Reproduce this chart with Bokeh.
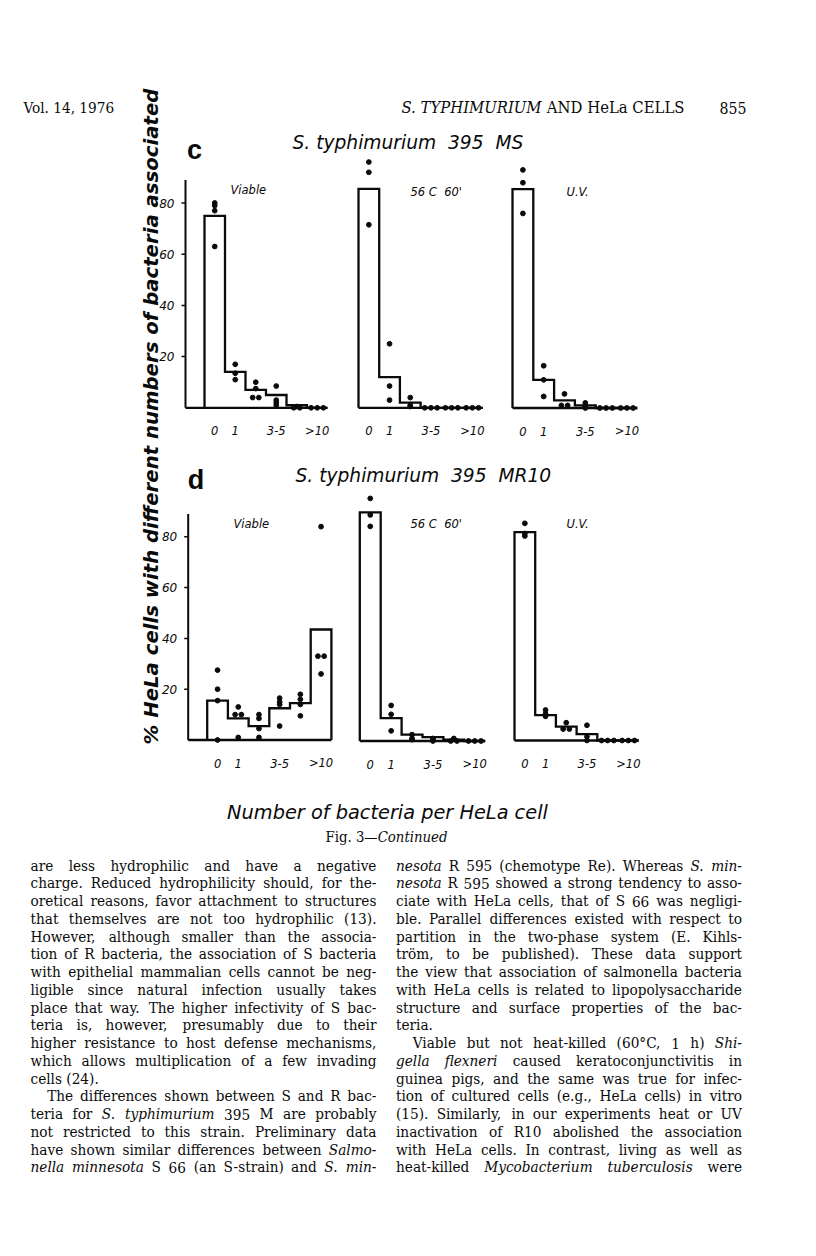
import math, struct, glob
from bokeh.plotting import figure
from bokeh.models import Range1d, ColumnDataSource
from bokeh.core.properties import value
from bokeh.embed import file_html
from bokeh.resources import INLINE

# ---------------- data ----------------
bin_names = ["0", "1", "2", "3-5", "6-10", ">10"]
x_tick_labels = ["0", "1", "3-5", ">10"]
y_ticks = [20, 40, 60, 80]
y_axis_top = 89

# panel c : S. typhimurium 395 MS
c_viable_bars = [75, 14, 7, 5, 1, 0]
c_viable_pts = [[80, 79, 77, 63], [17, 13.5, 11], [10, 7.5, 4, 4], [8.5, 3, 2, 1], [0.5, 0, 0], [0, 0, 0]]
c_heat_bars = [85.5, 12, 2, 0, 0, 0]
c_heat_pts = [[96, 92, 71.5], [25, 8.5, 3], [4, 1, 0.5], [0, 0, 0], [0, 0, 0], [0, 0, 0]]
c_uv_bars = [85.5, 11, 3, 1, 0, 0]
c_uv_pts = [[93, 88, 76], [16.5, 11, 4.5], [5.5, 1, 1], [2, 0.5, 0], [0, 0, 0], [0, 0, 0]]

# panel d : S. typhimurium 395 MR10
d_viable_bars = [15.5, 8.5, 5.5, 12.5, 14.5, 43.5]
d_viable_pts = [[27.5, 20, 15.5, 0], [13, 10, 10, 1], [10, 8.5, 4.5, 1], [16.5, 15, 14, 5.5], [18, 16, 14, 9.5], [84, 33, 33, 26]]
d_heat_bars = [90, 9, 2.5, 1.5, 0.5, 0]
d_heat_pts = [[95.5, 89, 84.5], [14, 10.5, 4], [2.5, 1, 0.5], [1, 0.5, 0], [1, 0, 0], [0, 0, 0]]
d_uv_bars = [82, 10, 5.5, 2.5, 0, 0]
d_uv_pts = [[85.5, 81.5, 80.5], [12, 10.5, 9.5], [7, 4.5, 4.5], [6, 1.5, 0], [0, 0, 0], [0, 0, 0]]

panel_letters = ["c", "d"]
panel_titles = ["S. typhimurium  395  MS", "S. typhimurium  395  MR10"]
condition_labels = ["Viable", "56 C  60'", "U.V."]
y_title = "% HeLa cells with different numbers of bacteria associated"
x_title = "Number of bacteria per HeLa cell"

left_lines = [
    "are less hydrophilic and have a negative",
    "charge. Reduced hydrophilicity should, for the-",
    "oretical reasons, favor attachment to structures",
    "that themselves are not too hydrophilic (13).",
    "However, although smaller than the associa-",
    "tion of R bacteria, the association of S bacteria",
    "with epithelial mammalian cells cannot be neg-",
    "ligible since natural infection usually takes",
    "place that way. The higher infectivity of S bac-",
    "teria is, however, presumably due to their",
    "higher resistance to host defense mechanisms,",
    "which allows multiplication of a few invading",
    "cells (24).",
    "The differences shown between S and R bac-",
    "teria for *S. typhimurium* 395 M are probably",
    "not restricted to this strain. Preliminary data",
    "have shown similar differences between *Salmo-*",
    "*nella minnesota* S 66 (an S-strain) and *S. min-*",
]
right_lines = [
    "*nesota* R 595 (chemotype Re). Whereas *S. min-*",
    "*nesota* R 595 showed a strong tendency to asso-",
    "ciate with HeLa cells, that of S 66 was negligi-",
    "ble. Parallel differences existed with respect to",
    "partition in the two-phase system (E. Kihls-",
    "tröm, to be published). These data support",
    "the view that association of salmonella bacteria",
    "with HeLa cells is related to lipopolysaccharide",
    "structure and surface properties of the bac-",
    "teria.",
    "Viable but not heat-killed (60°C, 1 h) *Shi-*",
    "*gella flexneri* caused keratoconjunctivitis in",
    "guinea pigs, and the same was true for infec-",
    "tion of cultured cells (e.g., HeLa cells) in vitro",
    "(15). Similarly, in our experiments heat or UV",
    "inactivation of R10 abolished the association",
    "with HeLa cells. In contrast, living as well as",
    "heat-killed *Mycobacterium tuberculosis* were",
]
left_par_first, left_par_last = [13], [12]
right_par_first, right_par_last = [10], [9]

# ---------------- font metrics (for layout of text only) ----------------
def find_font(name):
    for root in ("/usr/share/fonts", "/usr/local/share/fonts"):
        hits = glob.glob(root + "/**/" + name, recursive=True)
        if hits:
            return hits[0]
    return None

def load_widths(name):
    path = find_font(name)
    if path is None:
        return None
    try:
        data = open(path, "rb").read()
        ntab = struct.unpack(">H", data[4:6])[0]
        tabs = {}
        for i in range(ntab):
            tag, cs, off, ln = struct.unpack(">4sIII", data[12 + 16 * i:28 + 16 * i])
            tabs[tag.decode("latin1")] = off
        o = tabs["head"]; upem = struct.unpack(">H", data[o + 18:o + 20])[0]
        o = tabs["hhea"]; nhm = struct.unpack(">H", data[o + 34:o + 36])[0]
        o = tabs["hmtx"]
        adv = [struct.unpack(">H", data[o + 4 * i:o + 4 * i + 2])[0] for i in range(nhm)]
        c = tabs["cmap"]
        n = struct.unpack(">H", data[c + 2:c + 4])[0]
        sub = None
        for i in range(n):
            pid, eid, so = struct.unpack(">HHI", data[c + 4 + 8 * i:c + 12 + 8 * i])
            fmt = struct.unpack(">H", data[c + so:c + so + 2])[0]
            if fmt == 4 and pid in (0, 3):
                sub = c + so
                break
        seg2 = struct.unpack(">H", data[sub + 6:sub + 8])[0]; seg = seg2 // 2
        ends = struct.unpack(">%dH" % seg, data[sub + 14:sub + 14 + seg2])
        starts = struct.unpack(">%dH" % seg, data[sub + 16 + seg2:sub + 16 + 2 * seg2])
        deltas = struct.unpack(">%dh" % seg, data[sub + 16 + 2 * seg2:sub + 16 + 3 * seg2])
        rpos = sub + 16 + 3 * seg2
        roffs = struct.unpack(">%dH" % seg, data[rpos:rpos + seg2])
        cache = {}
        def width(ch):
            if ch in cache:
                return cache[ch]
            cp = ord(ch); g = 0
            for i in range(seg):
                if ends[i] >= cp:
                    if starts[i] <= cp:
                        if roffs[i] == 0:
                            g = (cp + deltas[i]) & 0xFFFF
                        else:
                            a = rpos + 2 * i + roffs[i] + 2 * (cp - starts[i])
                            gg = struct.unpack(">H", data[a:a + 2])[0]
                            g = (gg + deltas[i]) & 0xFFFF if gg else 0
                    break
            w = adv[min(g, nhm - 1)] / upem
            cache[ch] = w
            return w
        return width
    except Exception:
        return None

def text_em(s, fw):
    return sum(fw(ch) for ch in s)

def pick(options, fallback):
    for fam, fname in options:
        fw = load_widths(fname)
        if fw is not None:
            return fam, fw
    return options[-1][0], (lambda ch: fallback)

body_fam, serif_r = pick([("DejaVu Serif Condensed", "DejaVuSerifCondensed.ttf"), ("DejaVu Serif", "DejaVuSerif.ttf")], 0.5)
_, serif_i = pick([("DejaVu Serif Condensed", "DejaVuSerifCondensed-Italic.ttf"), ("DejaVu Serif", "DejaVuSerif-Italic.ttf")], 0.5)
_, sans_i = pick([("DejaVu Sans", "DejaVuSans-Oblique.ttf")], 0.55)
_, sans_bi = pick([("DejaVu Sans", "DejaVuSans-BoldOblique.ttf")], 0.6)
head_fam = body_fam
head_r, head_i = serif_r, serif_i

# ---------------- canvas ----------------
W, H = 800, 1240
p = figure(width=W, height=H, x_range=Range1d(0, W), y_range=Range1d(H, 0),
           output_backend="svg", toolbar_location=None, min_border=0,
           x_axis_type=None, y_axis_type=None, outline_line_color=None)
p.background_fill_color = "white"
p.border_fill_color = "white"
INK = "#0a0a0a"
SANS = value("DejaVu Sans")
NB = "\u00a0"

def nbsp(s):
    return s.replace("  ", NB + NB)

# ---------------- histogram panels ----------------
panels = [
    dict(name="cV", bars=c_viable_bars, pts=c_viable_pts, left=204.0, bw=20.5, base=407.3, k=2.56, axis=True),
    dict(name="cH", bars=c_heat_bars, pts=c_heat_pts, left=358.0, bw=20.7, base=407.3, k=2.56, axis=False),
    dict(name="cU", bars=c_uv_bars, pts=c_uv_pts, left=512.0, bw=20.8, base=407.5, k=2.56, axis=False),
    dict(name="dV", bars=d_viable_bars, pts=d_viable_pts, left=206.7, bw=20.7, base=739.5, k=2.54, axis=True),
    dict(name="dH", bars=d_heat_bars, pts=d_heat_pts, left=359.3, bw=20.9, base=740.5, k=2.54, axis=False),
    dict(name="dU", bars=d_uv_bars, pts=d_uv_pts, left=514.0, bw=20.7, base=740.0, k=2.54, axis=False),
]

for pn in panels:
    nm, bw, k = pn["name"], pn["bw"], pn["k"]
    p.extra_x_ranges[nm] = Range1d((0 - pn["left"]) / bw, (W - pn["left"]) / bw)
    p.extra_y_ranges[nm] = Range1d((pn["base"] - H) / k, pn["base"] / k)
    kw = dict(x_range_name=nm, y_range_name=nm)
    bars = pn["bars"]; nb = len(bars)
    xs, ys = [0], [0]
    for i, h in enumerate(bars):
        xs += [i, i + 1]; ys += [h, h]
    xs.append(nb); ys.append(0)
    p.line(xs, ys, line_color=INK, line_width=2.3, line_join="miter", **kw)
    ax_x = -19.0 / bw if pn["axis"] else 0
    p.line([ax_x, nb], [0, 0], line_color=INK, line_width=2.3, **kw)
    # replicate dots
    dx, dy = [], []
    for i, vals in enumerate(pn["pts"]):
        counts = {}
        for v in vals:
            counts[v] = counts.get(v, 0) + 1
        seen = {}
        for v in vals:
            n = counts[v]; j = seen.get(v, 0); seen[v] = j + 1
            off = (j - (n - 1) / 2) * 0.3
            dx.append(i + 0.5 + off); dy.append(v)
    p.scatter(dx, dy, size=4.8, color=INK, **kw)
    # x tick labels
    tx = [bin_names.index(t) + 0.5 for t in x_tick_labels]
    p.text(tx, [0] * len(tx), text=x_tick_labels, y_offset=23, text_align="center",
           text_baseline="middle", text_font=SANS, text_font_style="italic",
           text_font_size="11.5px", text_color=INK, **kw)
    # y axis
    if pn["axis"]:
        p.segment([ax_x], [0], [ax_x], [y_axis_top], line_color=INK, line_width=2.0, **kw)
        p.segment([ax_x] * 4, y_ticks, [ax_x - 4.0 / bw] * 4, y_ticks, line_color=INK, line_width=1.5, **kw)
        p.text([ax_x] * 4, y_ticks, text=[str(t) for t in y_ticks], x_offset=-11,
               text_align="right", text_baseline="middle", text_font=SANS,
               text_font_style="italic", text_font_size="12px", text_color=INK, **kw)

# condition labels (page coordinates)
cond_xy = [(230, 189), (410, 191), (566, 191), (233, 523), (410, 523), (566, 523)]
for j, (x, y) in enumerate(cond_xy):
    p.text([x], [y], text=[nbsp(condition_labels[j % 3])], text_align="left", text_baseline="middle",
           text_font=SANS, text_font_style="italic", text_font_size="11.5px", text_color=INK)

# panel letters and titles
tsize = 231.0 / text_em(nbsp(panel_titles[0]), sans_i)
for j, (lx, ly, tx, ty) in enumerate([(194, 149, 292, 142), (195.5, 479, 295, 475)]):
    p.text([lx], [ly], text=[panel_letters[j]], text_align="center", text_baseline="middle",
           text_font=value("Liberation Sans"), text_font_style="bold", text_font_size="27px", text_color=INK)
    p.text([tx], [ty], text=[nbsp(panel_titles[j])], text_align="left", text_baseline="middle",
           text_font=SANS, text_font_style="italic", text_font_size="%.2fpx" % tsize, text_color=INK)

# axis titles
ysize = 657.0 / text_em(y_title, sans_bi)
p.text([151], [416], text=[y_title], angle=math.pi / 2, text_align="center", text_baseline="middle",
       text_font=SANS, text_font_style="bold italic", text_font_size="%.2fpx" % ysize, text_color=INK)
xsize = 321.0 / text_em(x_title, sans_i)
p.text([387], [812], text=[x_title], text_align="center", text_baseline="middle",
       text_font=SANS, text_font_style="italic", text_font_size="%.2fpx" % xsize, text_color=INK)

# ---------------- page furniture ----------------
def seg_text(parts, x, y, target_w=None, size=13.0, align="left"):
    em = sum(text_em(s, head_i if it else head_r) for s, it in parts)
    if target_w:
        size = target_w / em
    tot = em * size
    cx = x - tot / 2 if align == "center" else (x - tot if align == "right" else x)
    for s, it in parts:
        fw = head_i if it else head_r
        lead = len(s) - len(s.lstrip(" "))
        cx += fw(" ") * size * lead
        s2 = s.strip(" ")
        p.text([cx], [y], text=[s2], text_align="left", text_baseline="alphabetic",
               text_font=value(head_fam), text_font_style="italic" if it else "normal",
               text_font_size="%.2fpx" % size, text_color=INK)
        cx += text_em(s2, fw) * size + fw(" ") * size * (len(s) - len(s.rstrip(" ")))

seg_text([("Vol. 14, 1976", False)], 23, 107, target_w=92)
seg_text([("S. TYPHIMURIUM", True), (" AND HeLa CELLS", False)], 401, 107, target_w=283)
seg_text([("855", False)], 746, 107, target_w=27, align="right")
seg_text([("Fig. 3—", False), ("Continued", True)], 386, 836, target_w=122, align="center")

# ---------------- body text (justified columns) ----------------
COLW = 346.0
BODY = 15.2
def words_of(line):
    out, it = [], False
    for tok in line.split():
        if tok.startswith("*"):
            it = True
        out.append((tok.strip("*"), it))
        if tok.endswith("*"):
            it = False
    return out

def natural_em(line, spf):
    ws = words_of(line)
    return sum(text_em(w, serif_i if it else serif_r) for w, it in ws) + serif_r(" ") * spf * (len(ws) - 1)

reg = dict(x=[], y=[], t=[], s=[]); ita = dict(x=[], y=[], t=[], s=[])
def place(lines, x0, firsts, lasts):
    for i, line in enumerate(lines):
        y = 865.0 + 17.76 * i
        ind = 16.7 if i in firsts else 0.0
        ws = words_of(line)
        size = BODY
        avail = COLW - ind
        if i not in lasts and len(ws) > 1:
            need = natural_em(line, 0.5) * size
            if need > avail:
                size = size * avail / need
        wids = [text_em(w, serif_i if it else serif_r) * size for w, it in ws]
        sp = serif_r(" ") * size
        if i in lasts or len(ws) < 2:
            gap = sp
        else:
            gap = (avail - sum(wids)) / (len(ws) - 1)
        cx = x0 + ind
        for (w, it), wd in zip(ws, wids):
            d = ita if it else reg
            d["x"].append(cx); d["y"].append(y); d["t"].append(w); d["s"].append("%.2fpx" % size)
            cx += wd + gap

place(left_lines, 30.0, left_par_first, left_par_last)
place(right_lines, 395.5, right_par_first, right_par_last)

for d, st in ((reg, "normal"), (ita, "italic")):
    p.text(x="x", y="y", text="t", source=ColumnDataSource(d), text_align="left",
           text_baseline="alphabetic", text_font=value(body_fam), text_font_style=st,
           text_font_size="s", text_color=INK)

open("out.html", "w").write(file_html(p, INLINE))
